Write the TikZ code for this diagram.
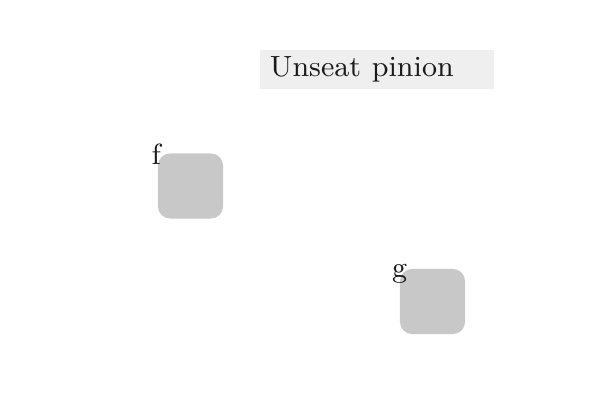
\documentclass[tikz,border=0pt]{standalone}
\usepackage{tikz}
\usepackage{graphicx}
\usetikzlibrary{positioning}
\definecolor{tagfill}{HTML}{EFEFEF}
\definecolor{partfill}{HTML}{C8C8C8}
\definecolor{inkcol}{HTML}{1A1A1A}
\newcommand{\enlargetxt}[1]{\scalebox{2.31}{\fontsize{9}{11}\selectfont #1}}
\begin{document}
\begin{tikzpicture}[x=0.025cm,y=-0.025cm,
                every node/.style={text=inkcol},
                tagbox/.style={fill=tagfill, minimum width=5.85cm, minimum height=0.975cm,
                               inner sep=0pt, text width=5.35cm, align=left},
                part/.style={fill=partfill, rounded corners=0.3cm, minimum size=1.625cm, inner sep=0pt},
                partlbl/.style={anchor=center, inner sep=0pt},]
    \useasboundingbox (0,0) rectangle (600,400);
    \node[tagbox] (step) at (377,69.5) {\raisebox{-1.4pt}{\enlargetxt{Unseat pinion}}};
    \node[part] (f) at (190.5,186) {};
    \node[part] (g) at (432.5,301.5) {};
    \node[partlbl] (flbl) at ([xshift=-1pt,yshift=-0.5pt]f.north west) {\enlargetxt{f}};
    \node[partlbl] (glbl) at ([xshift=0pt,yshift=-4pt]g.north west) {\enlargetxt{g}};
\end{tikzpicture}
\end{document}
